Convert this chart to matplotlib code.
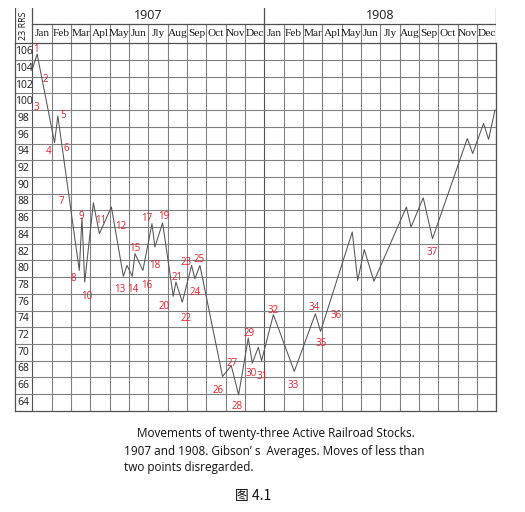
import numpy as np
import matplotlib.pyplot as plt

months = ['Jan', 'Feb', 'Mar', 'Apl', 'May', 'Jun', 'Jly', 'Aug', 'Sep', 'Oct', 'Nov', 'Dec']
years = ['1907', '1908']
price_ticks = list(range(64, 107, 2))

# turning points of the average: month position (0 = start of Jan 1907) and price
turn_month = [0.0, 0.25, 1.15, 1.32, 2.43, 2.57, 2.71, 3.16, 3.47, 4.09,
              4.71, 4.90, 5.17, 5.31, 5.72, 6.19, 6.34, 6.74, 7.29, 7.43,
              7.76, 8.24, 8.41, 8.67, 9.84, 10.29, 10.67, 11.17, 11.38, 11.69,
              11.86, 12.47, 13.55, 14.64, 14.91, 16.55, 16.83, 17.17, 17.67, 19.35,
              19.59, 20.22, 20.70, 22.50, 22.78, 23.34, 23.60, 23.93]
turn_price = [103.9, 105.7, 95.1, 98.3, 79.8, 86.1, 78.4, 87.9, 84.2, 87.4,
              79.1, 80.4, 79.1, 81.8, 79.8, 85.4, 82.6, 85.5, 76.7, 78.4,
              76.0, 80.4, 78.8, 80.4, 67.1, 68.4, 64.9, 71.7, 68.7, 70.6,
              69.0, 74.5, 67.7, 74.6, 72.5, 84.4, 78.6, 82.3, 78.5, 87.4,
              85.0, 88.5, 83.6, 95.6, 93.8, 97.4, 95.5, 99.0]

# numbered moves and where their numbers sit
move_numbers = list(range(1, 38))
label_month = [0.19, 0.69, 0.19, 0.86, 1.57, 1.76, 1.48, 2.12, 2.53, 2.84,
               3.55, 4.57, 4.50, 5.21, 5.28, 5.92, 5.92, 6.31, 6.78, 6.81,
               7.47, 7.94, 7.95, 8.42, 8.64, 9.59, 10.35, 10.59, 11.23, 11.31,
               11.87, 12.44, 13.49, 14.59, 14.92, 15.73, 20.69]
label_price = [106.3, 102.7, 99.3, 94.1, 98.3, 94.4, 88.0, 78.8, 86.3, 76.7,
               85.8, 85.0, 77.5, 77.5, 82.4, 78.0, 86.0, 80.4, 86.2, 75.5,
               79.0, 74.1, 80.8, 77.2, 81.1, 65.4, 68.7, 63.5, 72.2, 67.4,
               67.1, 75.0, 66.0, 75.3, 71.1, 74.4, 81.9]

caption_lines = ['Movements of twenty-three Active Railroad Stocks.',
                 '1907 and 1908. Gibson\u2019 s  Averages. Moves of less than',
                 'two points disregarded.']
figure_no = '图 4.1'

W, H = 525, 512
GRID = '#808080'
FRAME = '#505050'
RED = '#e8202a'
col_w = (32.3 - 15) / 19.33


def box(l, t, r, b):
    return [l / W, 1 - b / H, (r - l) / W, (b - t) / H]


fig = plt.figure(figsize=(W / 100, H / 100), dpi=100)
fig.patch.set_facecolor('white')

# main grid
ax = fig.add_axes(box(15, 43.3, 496.3, 410.7))
ax.set_xlim(-col_w, 24)
ax.set_ylim(63, 107)
for m in range(25):
    ax.axvline(m, color=FRAME if m in (0, 12) else GRID, lw=0.8)
for v in range(65, 107, 2):
    ax.axhline(v, color=GRID, lw=0.8)
ax.set_xticks([])
ax.set_yticks([])
for s in ax.spines.values():
    s.set_color(FRAME)
    s.set_linewidth(0.9)

for p in price_ticks:
    ax.text(-col_w / 2, p, str(p), ha='center', va='center', fontsize=7.5,
            family=['Open Sans', 'DejaVu Sans'], color='#1a1a1a')

ax.plot(turn_month, turn_price, color='#555555', lw=0.75)

for n, lm, lp in zip(move_numbers, label_month, label_price):
    ax.text(lm, lp, str(n), color=RED, fontsize=7, ha='center', va='center',
            family=['Open Sans', 'DejaVu Sans'], clip_on=False)

# header with years and months
hd = fig.add_axes(box(15, 8, 496.3, 43.3))
hd.set_xlim(-col_w, 24)
hd.set_ylim(0, 35.3)
hd.axis('off')
row = 19.3
for x in (-col_w, 0, 12, 24):
    hd.plot([x, x], [0, 35.3], color=FRAME, lw=0.9)
for m in range(1, 24):
    hd.plot([m, m], [0, row], color=FRAME if m == 12 else GRID, lw=0.8)
hd.plot([0, 24], [row, row], color=FRAME, lw=0.9)

for i in range(24):
    hd.text(i + 0.5, row / 2, months[i % 12], ha='center', va='center',
            fontsize=8.2, family='Liberation Serif', color='#1a1a1a')
for k, yr in enumerate(years):
    hd.text(6 + 12 * k, (row + 35.3) / 2 + 0.5, yr, ha='center', va='center',
            fontsize=9, family=['Open Sans', 'DejaVu Sans'], color='#1a1a1a')
hd.text(-col_w / 2, 17.8, '23 RRS', rotation=90, ha='center', va='center',
        fontsize=6.5, family=['Open Sans', 'DejaVu Sans'], color='#1a1a1a')

# caption
cap_x = [136.7, 124, 124]
cap_y = [433.3, 451, 467.3]
for txt, x, y in zip(caption_lines, cap_x, cap_y):
    fig.text(x / W, 1 - y / H, txt, ha='left', va='center', fontsize=8.5,
             family=['Open Sans', 'DejaVu Sans'], color='#111111')
fig.text(253 / W, 1 - 496 / H, figure_no, ha='center', va='center', fontsize=10,
         family=['Noto Sans CJK SC', 'DejaVu Sans'], color='#111111')

fig.savefig('out.png', dpi=100, facecolor='white')
